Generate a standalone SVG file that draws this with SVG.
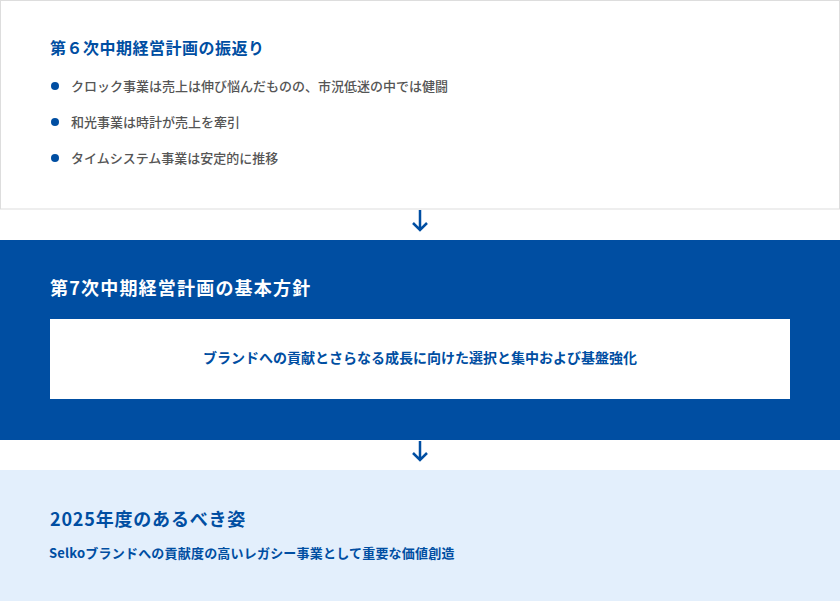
<svg xmlns="http://www.w3.org/2000/svg" width="840" height="601" viewBox="0 0 840 601">
<style>
text{font-family:"Noto Sans CJK JP","Noto Sans",sans-serif;}
.t1{font-size:16px;font-weight:700;fill:#004ea2;letter-spacing:0.5px;}
.b{font-size:13px;font-weight:500;fill:#555555;}
.t2{font-size:18px;font-weight:700;fill:#ffffff;letter-spacing:1.2px;}
.m{font-size:14px;font-weight:700;fill:#004ea2;}
.t3{font-size:18px;font-weight:700;fill:#004ea2;letter-spacing:0.8px;}
.s{font-size:13px;font-weight:700;fill:#004ea2;letter-spacing:0.2px;}
.arr{fill:none;stroke:#004ea2;stroke-width:2.5;stroke-linecap:butt;stroke-linejoin:miter;}
</style>
<rect width="840" height="601" fill="#ffffff"/>
<g id="node-review">
<rect x="0.5" y="0.5" width="839" height="208.5" fill="#ffffff" stroke="#dddddd" stroke-width="1"/>
<text class="t1" x="50" y="54">第６次中期経営計画の振返り</text>
<circle cx="55" cy="86" r="4" fill="#004ea2"/>
<text class="b" x="71" y="90.5">クロック事業は売上は伸び悩んだものの、市況低迷の中では健闘</text>
<circle cx="55" cy="122" r="4" fill="#004ea2"/>
<text class="b" x="71" y="126.5">和光事業は時計が売上を牽引</text>
<circle cx="55" cy="158" r="4" fill="#004ea2"/>
<text class="b" x="71" y="162.5">タイムシステム事業は安定的に推移</text>
</g>
<g id="node-policy">
<rect x="0" y="240" width="840" height="200" fill="#004ea2"/>
<text class="t2" x="50" y="295">第7次中期経営計画の基本方針</text>
<rect x="50" y="319" width="740" height="80" fill="#ffffff"/>
<text class="m" x="420" y="363" text-anchor="middle">ブランドへの貢献とさらなる成長に向けた選択と集中および基盤強化</text>
</g>
<g id="node-goal">
<rect x="0" y="470" width="840" height="131" fill="#e3effc"/>
<text class="t3" x="50" y="526">2025年度のあるべき姿</text>
<text class="s" x="49" y="558">Selkoブランドへの貢献度の高いレガシー事業として重要な価値創造</text>
</g>
<g id="connectors">
<path class="arr" d="M420 210 V230 M413 223 L420 230 L427 223"/>
<path class="arr" d="M420 441 V460 M413 453 L420 460 L427 453"/>
</g>
</svg>
